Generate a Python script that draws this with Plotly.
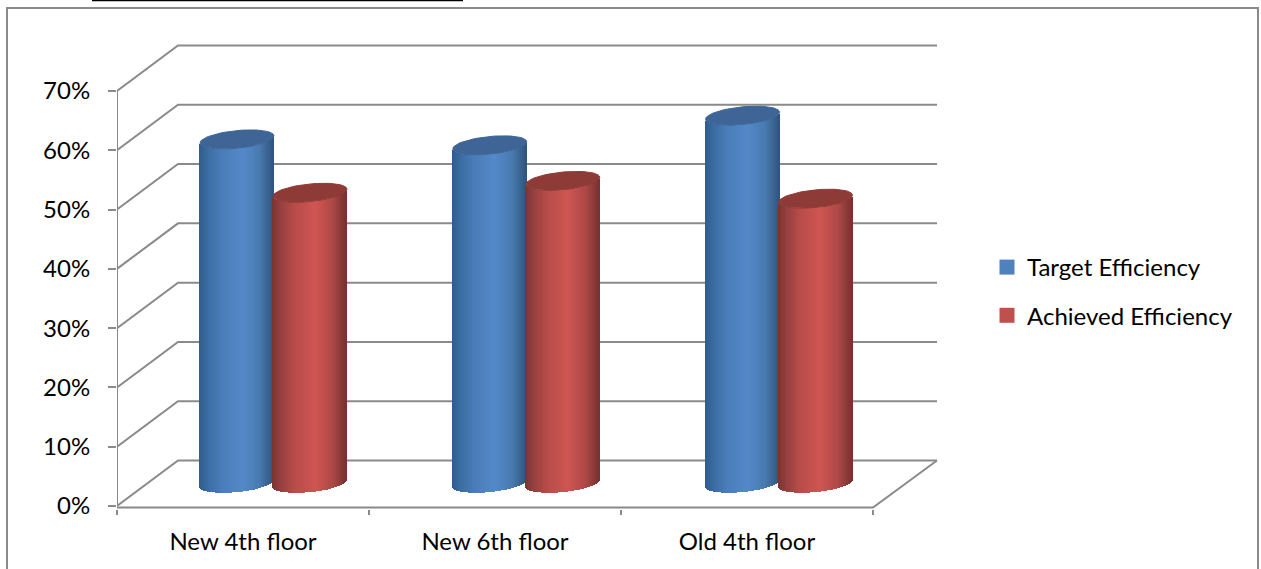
import numpy as np
import plotly.graph_objects as go

# Chart data
floors = ["New 4th floor", "New 6th floor", "Old 4th floor"]
target_efficiency = [58, 57, 62]
achieved_efficiency = [49, 51, 48]
percent_ticks = [0, 10, 20, 30, 40, 50, 60, 70]
percent_labels = ["0%", "10%", "20%", "30%", "40%", "50%", "60%", "70%"]

# Page and plot geometry (pixels)
W, H = 1261, 569
PLOT_L, PLOT_R, PLOT_T, PLOT_B = 117, 942, 42, 509
ZERO_PX = 506
PX_PER_CAT = 252.0
PX_PER_PCT = 5.929
XMAX = (PLOT_R - PLOT_L) / PX_PER_CAT
YMIN = (ZERO_PX - PLOT_B) / PX_PER_PCT
YMAX = (ZERO_PX - PLOT_T) / PX_PER_PCT

# Oblique depth of the box
DX = 61 / PX_PER_CAT
DY = 45.5 / PX_PER_PCT
XBACK_END = (937 - PLOT_L) / PX_PER_CAT
FLOOR_EDGE = -1.5 / PX_PER_PCT

# Cylinder proportions, in axis units
RADIUS = 37 / PX_PER_CAT
OFFSET = 36.5 / PX_PER_CAT
PITCH = 252.75 / PX_PER_CAT
CAP_B = 8.8 / PX_PER_PCT
CAP_TILT = 3.5 / PX_PER_PCT
N_STRIPS = 75

GRID = "#8a8a8a"
FONT = "Lato"
TEXT = "#000000"
BLUE_STOPS = [(0, "#2f5c8a"), (0.12, "#3b6ca3"), (0.3, "#4a7cb8"), (0.58, "#5389c9"),
              (0.82, "#487aaf"), (1, "#2f547d")]
RED_STOPS = [(0, "#7a3331"), (0.12, "#964140"), (0.3, "#b84c49"), (0.58, "#cf5552"),
             (0.82, "#ad4846"), (1, "#763130")]
BLUE_CAP = "#3e6595"
RED_CAP = "#8e3a37"


def hex_rgb(c):
    return np.array([int(c[i:i + 2], 16) for i in (1, 3, 5)], float)


def shade(stops, f):
    for (f0, c0), (f1, c1) in zip(stops, stops[1:]):
        if f <= f1:
            k = (f - f0) / (f1 - f0)
            r, g, b = hex_rgb(c0) + k * (hex_rgb(c1) - hex_rgb(c0))
            return f"rgb({r:.0f},{g:.0f},{b:.0f})"
    return stops[-1][1]


fig = go.Figure()


def add_cylinders(values, side, stops, cap_color):
    xs, heights, bases, colors = [], [], [], []
    cap_x, cap_y = [], []
    step = 2 * RADIUS / N_STRIPS
    for i, v in enumerate(values):
        cx = 0.5 + i * PITCH + DX / 2 + side * OFFSET
        floor = DY / 2
        for k in range(N_STRIPS):
            u = -1 + (2 * k + 1) / N_STRIPS
            xs.append(cx + u * RADIUS)
            heights.append(v)
            bases.append(floor - CAP_B * np.sqrt(1 - u * u) + CAP_TILT * u)
            colors.append(shade(stops, (u + 1) / 2))
        t = np.linspace(0, 2 * np.pi, 73)
        cap_x += list(cx + RADIUS * np.cos(t)) + [None]
        cap_y += list(floor + v + CAP_B * np.sin(t) + CAP_TILT * np.cos(t)) + [None]
    fig.add_trace(go.Bar(x=xs, y=heights, base=bases, width=step * 1.5,
                         marker=dict(color=colors, line=dict(width=0)),
                         showlegend=False, hoverinfo="skip"))
    fig.add_trace(go.Scatter(x=cap_x, y=cap_y, mode="lines", fill="toself",
                             fillcolor=cap_color, line=dict(width=1, color=cap_color),
                             showlegend=False, hoverinfo="skip", cliponaxis=False))


add_cylinders(target_efficiency, -1, BLUE_STOPS, BLUE_CAP)
add_cylinders(achieved_efficiency, 1, RED_STOPS, RED_CAP)

# Front value axis
fig.add_trace(go.Scatter(x=[0, 0], y=[0, percent_ticks[-1]],
                         mode="lines", line=dict(color=GRID, width=2),
                         showlegend=False, hoverinfo="skip", cliponaxis=False))

# Legend entries
for name, color in (("Target Efficiency", "#4f81bd"), ("Achieved Efficiency", "#c0504d")):
    fig.add_trace(go.Scatter(x=[None], y=[None], mode="markers", name=name, legendgroup=name,
                             marker=dict(symbol="square", size=15, color=color)))


def line_shape(points):
    path = "M" + " L".join(f"{x},{y}" for x, y in points)
    return dict(type="path", path=path, xref="x", yref="y", layer="below",
                line=dict(color=GRID, width=2))


# Side wall diagonals and back wall lines, one per tick
shapes = [line_shape([(0, v), (DX, v + DY), (XBACK_END, v + DY)]) for v in percent_ticks]
# Front and right floor edges
shapes.append(line_shape([(0, FLOOR_EDGE), (3, FLOOR_EDGE), (XBACK_END, DY)]))


def page_x(px):
    return (px - PLOT_L) / (PLOT_R - PLOT_L)


def page_y(py):
    return (PLOT_B - py) / (PLOT_B - PLOT_T)


# Outer chart frame and the rule above it
shapes.append(dict(type="path", xref="paper", yref="paper", layer="below",
                   path=f"M{page_x(7)},{page_y(H + 10)} L{page_x(7)},{page_y(8)} "
                        f"L{page_x(1258)},{page_y(8)} L{page_x(1258)},{page_y(H + 10)}",
                   line=dict(color=GRID, width=2)))
shapes.append(dict(type="line", xref="paper", yref="paper", layer="below",
                   x0=page_x(92), x1=page_x(463), y0=page_y(0.5), y1=page_y(0.5),
                   line=dict(color="#000000", width=1.5)))

fig.update_layout(
    width=W, height=H,
    margin=dict(l=PLOT_L, r=W - PLOT_R, t=PLOT_T, b=H - PLOT_B, autoexpand=False),
    paper_bgcolor="white", plot_bgcolor="white",
    barmode="overlay", bargap=0,
    shapes=shapes,
    font=dict(family=FONT, size=24, color=TEXT),
    legend=dict(xref="container", yref="container", x=987 / W, y=1 - 245 / H,
                xanchor="left", yanchor="top", tracegroupgap=14,
                bgcolor="rgba(0,0,0,0)", font=dict(family=FONT, size=24, color=TEXT)),
    xaxis=dict(range=[0, XMAX], showgrid=False, zeroline=False, showline=False,
               tickmode="array", tickvals=[i + 0.5 for i in range(len(floors))], ticktext=floors,
               ticks="", ticklabelstandoff=16,
               minor=dict(tickmode="array", tickvals=list(range(len(floors) + 1)),
                          ticks="outside", ticklen=5, tickwidth=2, tickcolor=GRID)),
    yaxis=dict(range=[YMIN, YMAX], showgrid=False, zeroline=False, showline=False,
               tickmode="array", tickvals=percent_ticks, ticktext=percent_labels,
               ticks="outside", ticklen=8, tickwidth=2, tickcolor=GRID,
               ticklabelstandoff=13),
)

fig.write_html("out.html", config=dict(displayModeBar=False))
